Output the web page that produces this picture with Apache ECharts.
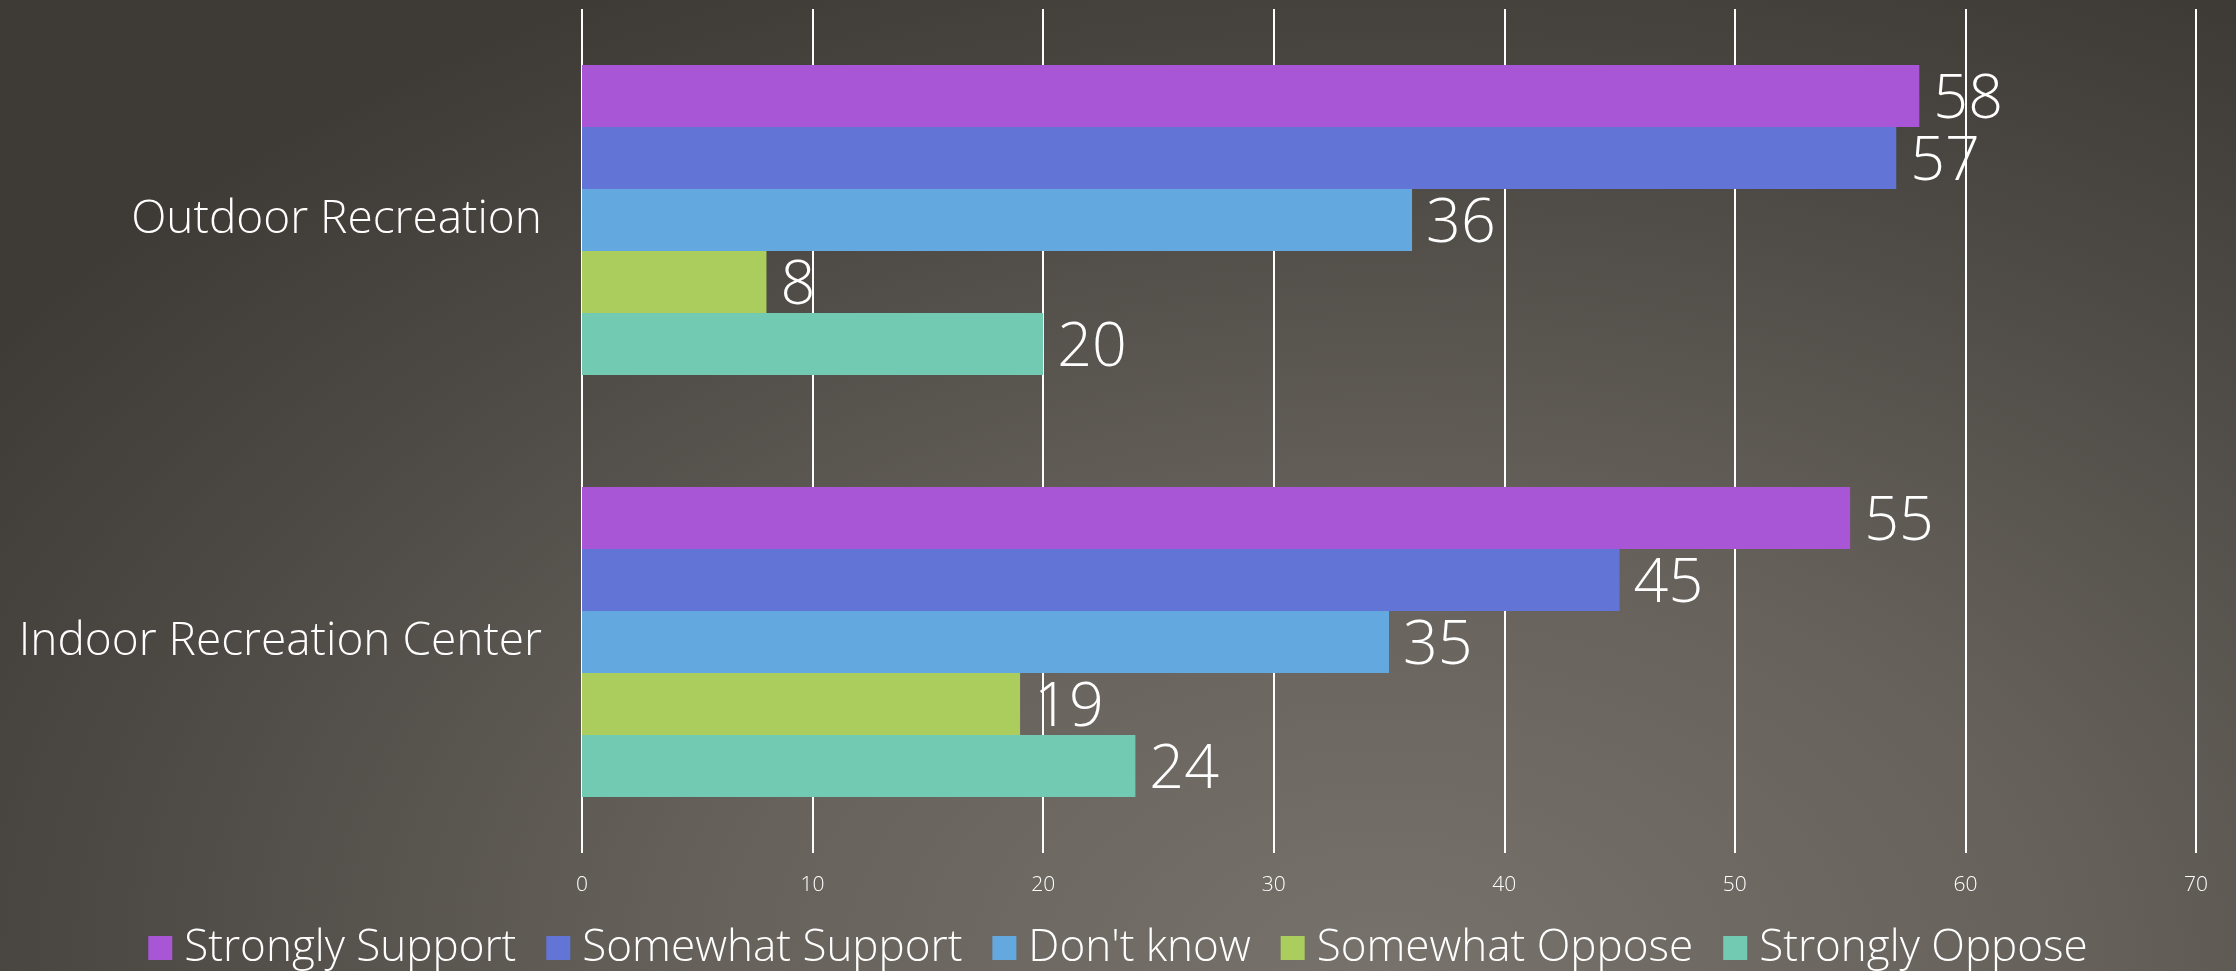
<!DOCTYPE html>
<html>
<head>
<meta charset="utf-8">
<script src="https://cdn.jsdelivr.net/npm/echarts@6/dist/echarts.min.js"></script>
<style>
  html, body { margin: 0; padding: 0; }
  body {
    width: 2236px; height: 971px; overflow: hidden;
    background: radial-gradient(ellipse 1700px 1100px at 62% 100%, #77726b 0%, #66615b 40%, #4d4944 75%, #3e3a35 100%);
  }
  #chart { width: 2236px; height: 971px; }
</style>
</head>
<body>
<div id="chart"></div>
<script>
// categories & series
var categories = ['Outdoor Recreation', 'Indoor Recreation Center'];
var seriesNames = ['Strongly Support', 'Somewhat Support', "Don't know", 'Somewhat Oppose', 'Strongly Oppose'];
var stronglySupport = [58, 55];
var somewhatSupport = [57, 45];
var dontKnow = [36, 35];
var somewhatOppose = [8, 19];
var stronglyOppose = [20, 24];
var colors = ['#a855d6', '#6275d6', '#63a8de', '#abcd5e', '#72cab3'];

var font = '"Open Sans", Lato, sans-serif';

var allData = [stronglySupport, somewhatSupport, dontKnow, somewhatOppose, stronglyOppose];

var series = [];
for (var i = 0; i < seriesNames.length; i++) {
  series.push({
    name: seriesNames[i],
    type: 'bar',
    data: allData[i],
    barGap: 0,
    barCategoryGap: '26.5%',
    itemStyle: { color: colors[i] },
    label: {
      show: true,
      position: 'right',
      distance: 14,
      offset: [0, 5],
      color: '#ffffff',
      fontFamily: font,
      fontWeight: 300,
      fontSize: 61
    }
  });
}

var chart = echarts.init(document.getElementById('chart'));
var option = {
  animation: false,
  color: colors,
  grid: {
    left: 582,
    right: 40,
    top: 9,
    bottom: 118,
    containLabel: false
  },
  legend: {
    data: seriesNames,
    top: 921,
    left: 'center',
    itemWidth: 24,
    itemHeight: 24,
    itemGap: 30,
    icon: 'rect',
    textStyle: {
      color: '#ffffff',
      fontFamily: font,
      fontWeight: 300,
      fontSize: 44,
      padding: [0, 0, 0, 7]
    }
  },
  xAxis: {
    type: 'value',
    min: 0,
    max: 70,
    interval: 10,
    axisLine: { show: false },
    axisTick: { show: false },
    axisLabel: {
      color: '#ffffff',
      fontFamily: font,
      fontWeight: 300,
      fontSize: 21,
      margin: 22
    },
    splitLine: { show: true, lineStyle: { color: '#ffffff', width: 2 } }
  },
  yAxis: {
    type: 'category',
    data: categories,
    inverse: true,
    axisLine: { show: false },
    axisTick: { show: false },
    axisLabel: {
      color: '#ffffff',
      fontFamily: font,
      fontWeight: 300,
      fontSize: 46,
      margin: 40,
      padding: [6, 0, 0, 0]
    }
  },
  series: series
};
chart.setOption(option);
</script>
</body>
</html>
